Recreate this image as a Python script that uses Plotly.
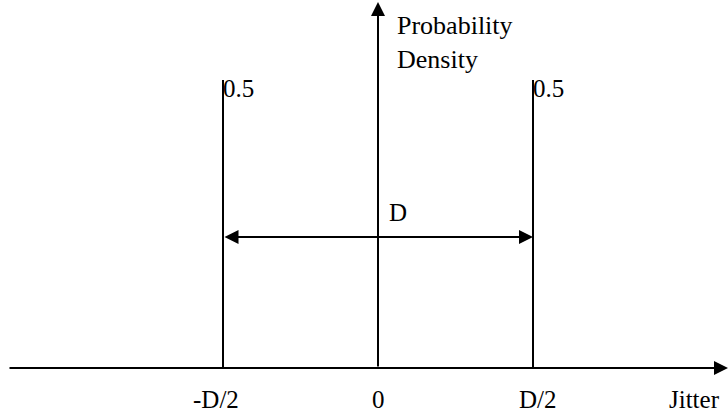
import plotly.graph_objects as go

# jitter pdf: two impulses at +-D/2, in units of D
impulse_x = [-0.5, 0.5]
impulse_p = [0.5, 0.5]
tick_vals = [-0.5, 0.0, 0.5]
tick_text = ['-D/2', '0', 'D/2']
x_title = 'Jitter'
y_title = 'Probability<br>Density'
span_label = 'D'

FONT = 'Liberation Serif, Times New Roman, serif'
BLACK = 'black'
FS = 25

# screen mapping: 0 at px 378, D = 310 px; y = 0 at px 368, 1 = 576 px
x_range = [-378 / 310, 350 / 310]
y_range = [-44 / 576, 368 / 576]

fig = go.Figure()

xs, ys = [], []
for xv, pv in zip(impulse_x, impulse_p):
    xs += [xv, xv, None]
    ys += [0, pv, None]
fig.add_trace(go.Scatter(x=xs, y=ys, mode='lines',
                         line=dict(color=BLACK, width=2),
                         hoverinfo='none'))

annotations = []

# axes with arrowheads
annotations.append(dict(x=728 / 310 - 378 / 310, y=0, ax=-370 / 310, ay=0,
                        xref='x', yref='y', axref='x', ayref='y',
                        showarrow=True, arrowhead=2, arrowsize=1.4,
                        arrowwidth=2, arrowcolor=BLACK, text=''))
annotations.append(dict(x=0, y=366 / 576, ax=0, ay=0,
                        xref='x', yref='y', axref='x', ayref='y',
                        showarrow=True, arrowhead=2, arrowsize=1.4,
                        arrowwidth=2, arrowcolor=BLACK, text=''))

# double arrow spanning D
arrow_y = 131 / 576
annotations.append(dict(x=impulse_x[1], y=arrow_y, ax=impulse_x[0], ay=arrow_y,
                        xref='x', yref='y', axref='x', ayref='y',
                        showarrow=True, arrowside='end+start',
                        arrowhead=2, startarrowhead=2,
                        arrowsize=1.4, startarrowsize=1.4,
                        arrowwidth=2, arrowcolor=BLACK, text=''))
annotations.append(dict(x=0, y=arrow_y, text=span_label, showarrow=False,
                        xref='x', yref='y', xanchor='left', yanchor='bottom',
                        xshift=9, yshift=9,
                        font=dict(family=FONT, size=FS, color=BLACK)))

# impulse height labels
for xv, pv in zip(impulse_x, impulse_p):
    annotations.append(dict(x=xv, y=pv, text='%g' % pv, showarrow=False,
                            xref='x', yref='y', xanchor='left', yanchor='middle',
                            xshift=-2, yshift=-8,
                            font=dict(family=FONT, size=FS, color=BLACK)))

# tick labels
shifts = [-7, 0, 5]
for tv, tt, sh in zip(tick_vals, tick_text, shifts):
    annotations.append(dict(x=tv, y=0, text=tt, showarrow=False,
                            xref='x', yref='y', xanchor='center', yanchor='middle',
                            xshift=sh, yshift=-31,
                            font=dict(family=FONT, size=FS, color=BLACK)))

annotations.append(dict(x=1, y=0, text=x_title, showarrow=False,
                        xref='paper', yref='y', xanchor='right', yanchor='middle',
                        xshift=-6, yshift=-31,
                        font=dict(family=FONT, size=FS, color=BLACK)))
annotations.append(dict(x=0, y=1, text=y_title, showarrow=False,
                        xref='x', yref='paper', xanchor='left', yanchor='top',
                        xshift=17, yshift=-9, align='left',
                        font=dict(family=FONT, size=FS + 1, color=BLACK)))

axis = dict(showline=False, zeroline=False, showgrid=False,
            showticklabels=False, fixedrange=True)

fig.update_layout(width=728, height=412,
                  margin=dict(l=0, r=0, t=0, b=0),
                  showlegend=False,
                  xaxis=dict(axis, range=x_range),
                  yaxis=dict(axis, range=y_range),
                  annotations=annotations,
                  plot_bgcolor='white', paper_bgcolor='white')

fig.write_html('out.html', config=dict(displayModeBar=False),
               post_script="document.body.style.margin='0';")
